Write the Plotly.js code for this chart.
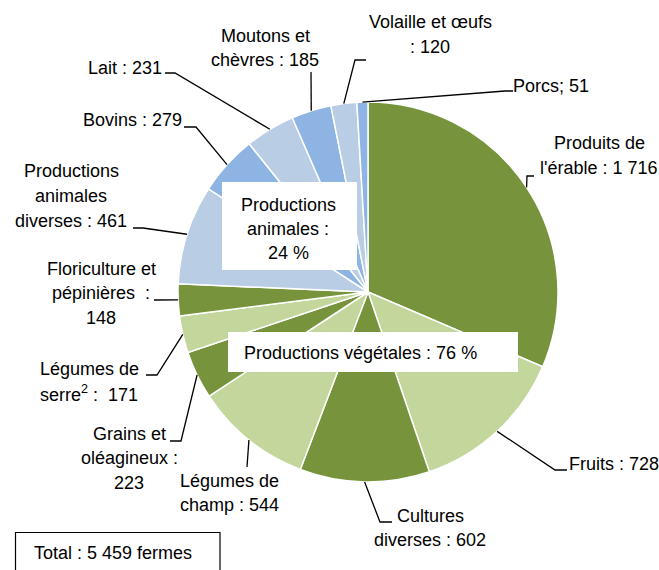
<!DOCTYPE html>
<html>
<head>
<meta charset="utf-8">
<script src="https://cdn.plot.ly/plotly-3.0.1.min.js"></script>
<style>html,body{margin:0;padding:0;background:#fff;}#chart{width:659px;height:570px;}</style>
</head>
<body>
<div id="chart"></div>
<script>
// ---- data ----
const categories = ["Produits de l'érable", "Fruits", "Cultures diverses", "Légumes de champ",
  "Grains et oléagineux", "Légumes de serre", "Floriculture et pépinières",
  "Productions animales diverses", "Bovins", "Lait", "Moutons et chèvres", "Volaille et œufs", "Porcs"];
const farms = [1716, 728, 602, 544, 223, 171, 148, 461, 279, 231, 185, 120, 51];
const labelLines = [["Produits de", "l'érable : 1 716"], ["Fruits : 728"], ["Cultures", "diverses : 602"],
  ["Légumes de", "champ : 544"], ["Grains et", "oléagineux :", "223"], ["Légumes de", "serre<sup>2</sup> :  171"],
  ["Floriculture et", "pépinières  :", "148"], ["Productions", "animales", "diverses : 461"], ["Bovins : 279"],
  ["Lait : 231"], ["Moutons et", "chèvres : 185"], ["Volaille et œufs", ": 120"], ["Porcs; 51"]];
const animalGroupLines = ["Productions", "animales :", "24 %"];
const plantGroupText = "Productions végétales : 76 %";
const totalText = "Total : 5 459 fermes";

// ---- styles / layout ----
const DG = "#77933C", LG = "#C3D69B", LB = "#B9CDE5", MB = "#8EB4E3";
const colors = [DG, LG, DG, LG, DG, LG, DG, LB, MB, LB, MB, LB, MB];
const W = 659, H = 570, CX = 368, CY = 292, R = 190, LH = 24.5, FS = 18;
const FONT = "'Liberation Sans Narrow', 'Arial Narrow', 'Liberation Sans', Arial, sans-serif";
// label positions (px) and leader-line elbows (px)
const labelPos = [
  {x: 599, y: 155.5, elbow: [[527,176],[534,176]]},
  {x: 614, y: 464, elbow: [[555,470],[567,470]]},
  {x: 430, y: 528, elbow: [[380,522],[392,522]]},
  {x: 229, y: 493, elbow: [[247,467]]},
  {x: 129, y: 458, elbow: [[181,441],[170,441]]},
  {x: 89.5, y: 381, elbow: [[157,375],[146,375]]},
  {x: 101, y: 293, elbow: [[154,300]]},
  {x: 71, y: 196, elbow: [[143,228],[133,228]]},
  {x: 132, y: 120, elbow: [[196,127],[184,127]]},
  {x: 125, y: 68, elbow: [[175,73],[165,73]]},
  {x: 265, y: 48, elbow: [[311,72]]},
  {x: 430, y: 34.5, elbow: [[355,60],[366,60]]},
  {x: 551, y: 86, elbow: [[505,91],[513,91]]}
];
const px = x => x / W, py = y => 1 - y / H;
const font = {family: FONT, size: FS, color: "#000"};

function addLines(annotations, lines, cx, cy) {
  const n = lines.length;
  lines.forEach((t, k) => {
    annotations.push({xref: "paper", yref: "paper", x: px(cx), y: py(cy + (k - (n - 1) / 2) * LH),
      xanchor: "center", yanchor: "middle", text: t, showarrow: false, font: font});
  });
}

const total = farms.reduce((a, b) => a + b, 0);
let cum = 0;
const shapes = [], annotations = [];
farms.forEach((v, i) => {
  const mid = (cum + v / 2) / total * 2 * Math.PI;
  cum += v;
  const sx = CX + R * Math.sin(mid), sy = CY - R * Math.cos(mid);
  const pts = [[sx, sy]].concat(labelPos[i].elbow);
  const path = pts.map((p, k) => (k ? "L" : "M") + px(p[0]).toFixed(5) + "," + py(p[1]).toFixed(5)).join(" ");
  shapes.push({type: "path", xref: "paper", yref: "paper", path: path, line: {color: "#000", width: 1.3}, layer: "above"});
  addLines(annotations, labelLines[i], labelPos[i].x, labelPos[i].y);
});

// group boxes
shapes.push({type: "rect", xref: "paper", yref: "paper", x0: px(222), x1: px(357), y0: py(182), y1: py(270),
  fillcolor: "#fff", line: {width: 0}, layer: "above"});
shapes.push({type: "rect", xref: "paper", yref: "paper", x0: px(228), x1: px(518), y0: py(332), y1: py(372),
  fillcolor: "#fff", line: {width: 0}, layer: "above"});
shapes.push({type: "rect", xref: "paper", yref: "paper", x0: px(15.5), x1: px(220), y0: py(532.5), y1: py(575),
  fillcolor: "#fff", line: {color: "#000", width: 1.2}, layer: "above"});
addLines(annotations, animalGroupLines, 288, 229);
addLines(annotations, [plantGroupText], 361, 353);
addLines(annotations, [totalText], 113, 553);

const trace = {
  type: "pie", labels: categories, values: farms, sort: false, direction: "clockwise", rotation: 0,
  marker: {colors: colors, line: {color: "#fff", width: 1.5}},
  textinfo: "none", hoverinfo: "none",
  domain: {x: [px(CX - R), px(CX + R)], y: [py(CY + R), py(CY - R)]}
};
const layout = {
  width: W, height: H, margin: {l: 0, r: 0, t: 0, b: 0}, showlegend: false,
  paper_bgcolor: "#fff", font: {family: FONT},
  shapes: shapes, annotations: annotations
};
Plotly.newPlot("chart", [trace], layout, {staticPlot: true, displayModeBar: false});
</script>
</body>
</html>
